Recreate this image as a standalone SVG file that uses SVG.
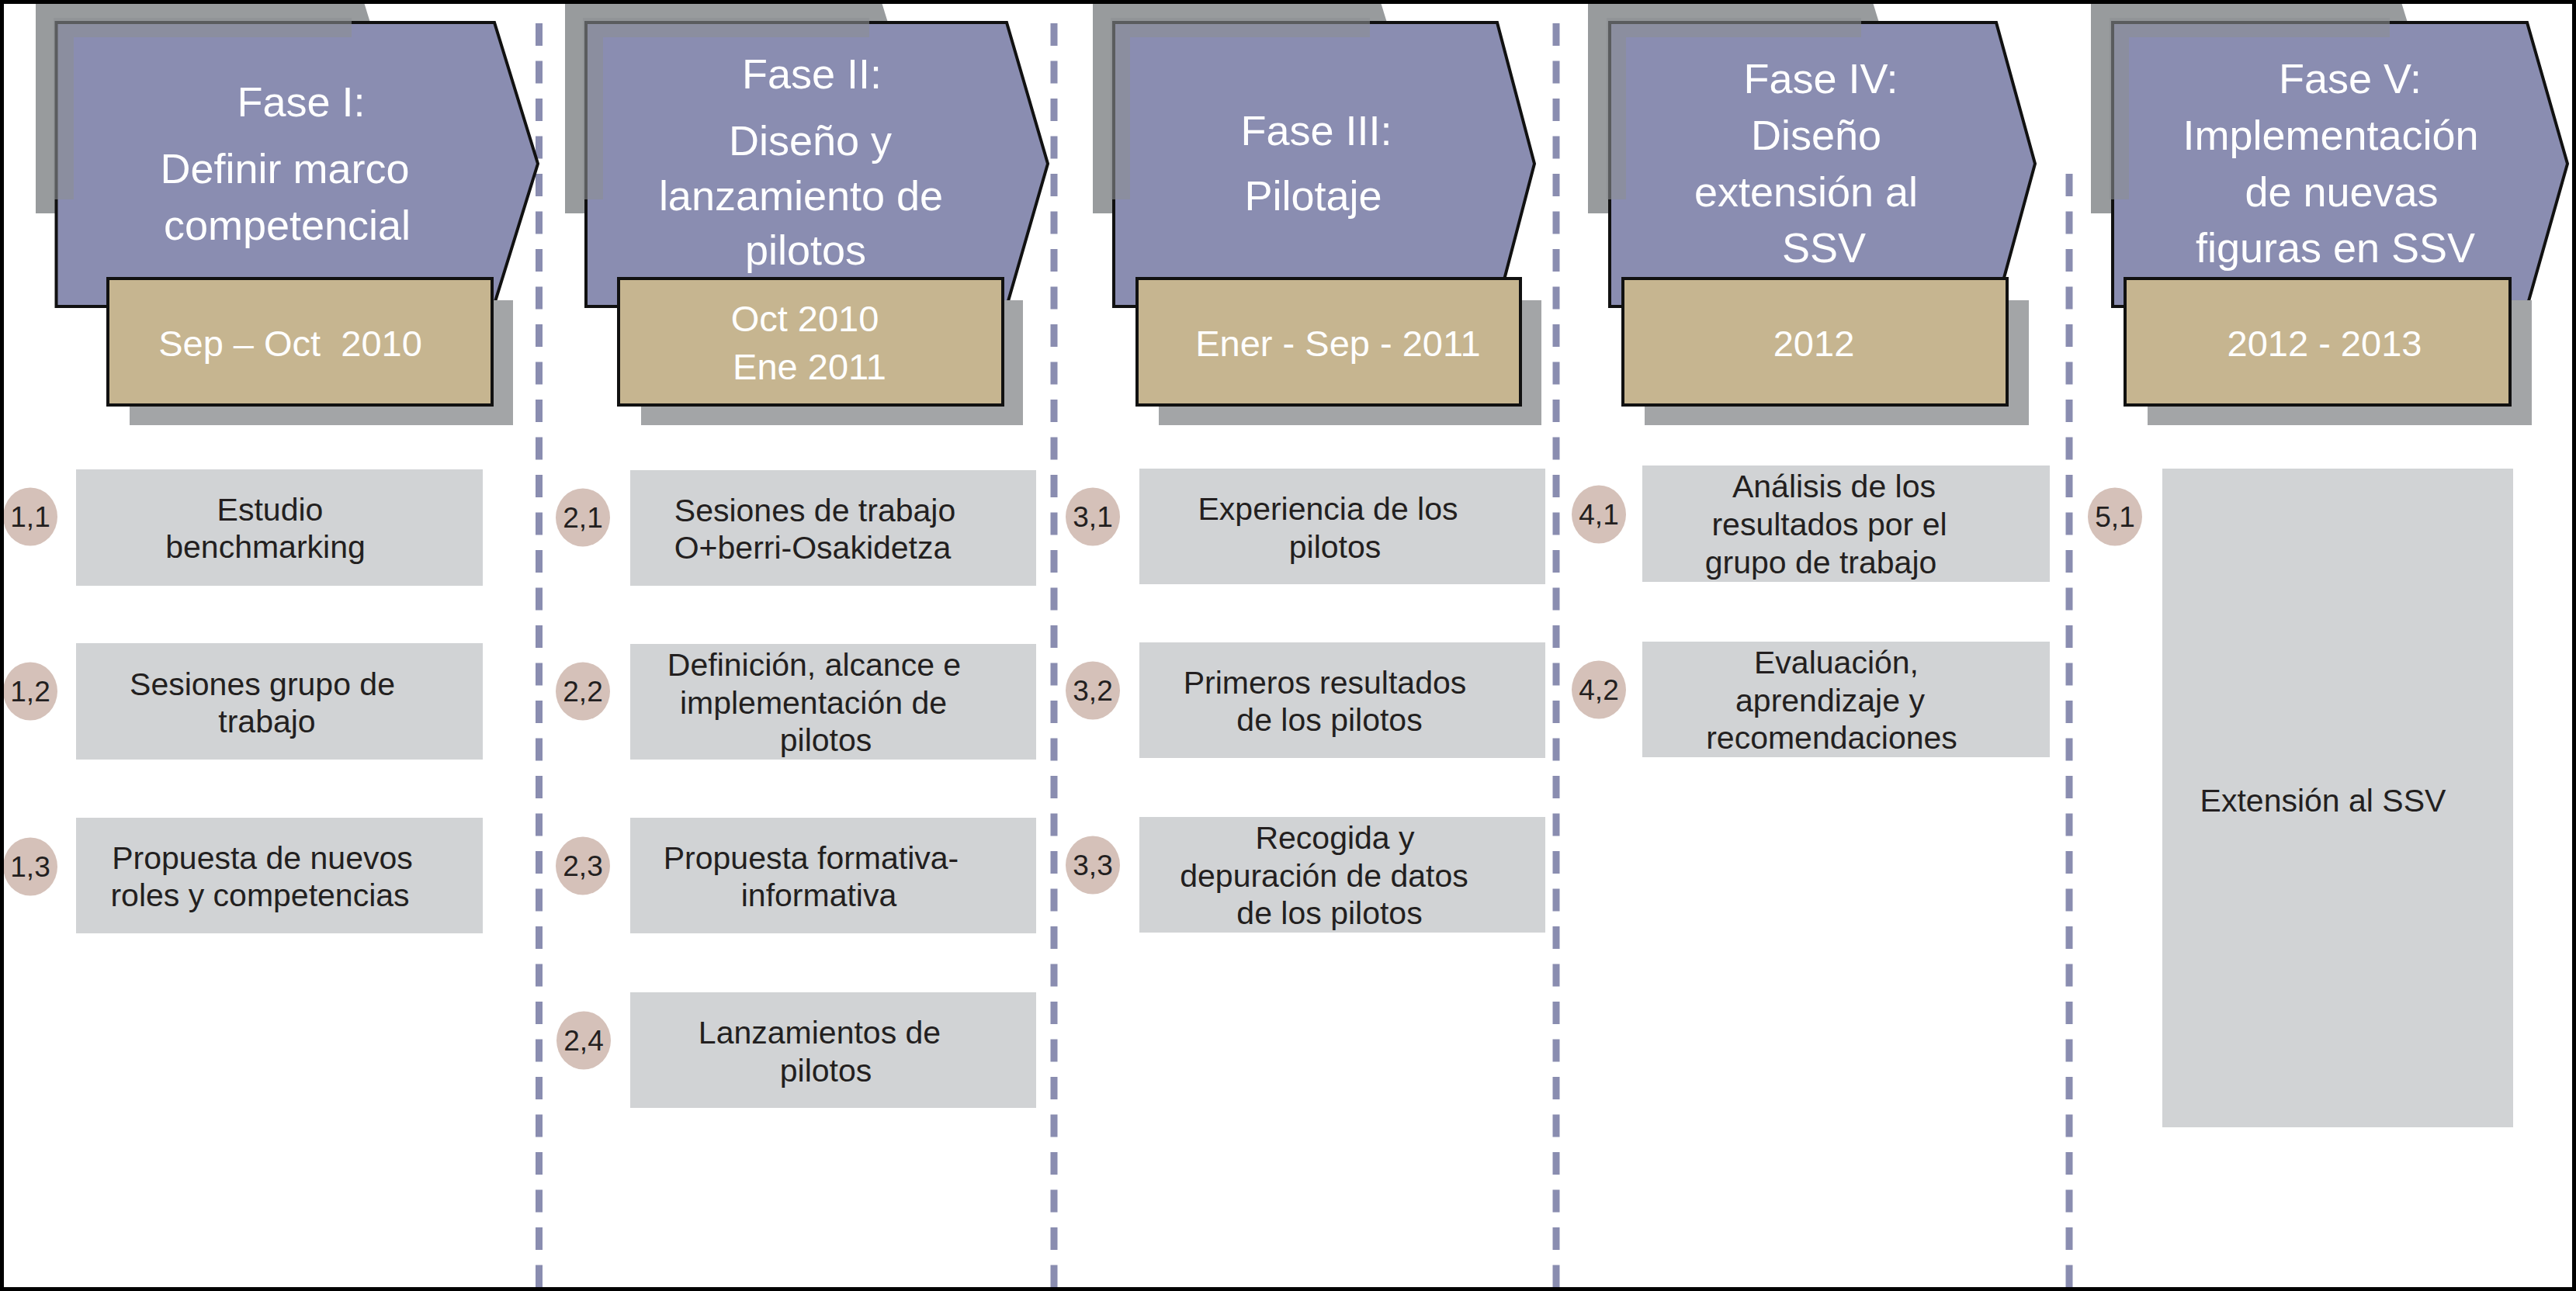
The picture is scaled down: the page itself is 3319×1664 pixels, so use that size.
<svg xmlns="http://www.w3.org/2000/svg" width="3319" height="1664" viewBox="0 0 3319 1664">
<style>
.shadow{fill:#989b9d}
.band{fill:#8c8f92;opacity:0.6}
.pent{fill:#8a8db1;stroke:#111;stroke-width:4;stroke-linejoin:miter}
.dshadow{fill:#a3a5a7}
.date{fill:#c6b590;stroke:#111;stroke-width:4}
.ht{font-family:"Liberation Sans",Arial,sans-serif;font-size:54px;fill:#fff;text-anchor:middle}
.dt{font-family:"Liberation Sans",Arial,sans-serif;font-size:47px;fill:#fff;text-anchor:middle;white-space:pre}
.box{fill:#d1d3d5}
.it{font-family:"Liberation Sans",Arial,sans-serif;font-size:41px;fill:#231f20;text-anchor:middle}
.badge{fill:#d5c1b9}
.bt{font-family:"Liberation Sans",Arial,sans-serif;font-size:37px;fill:#231f20;text-anchor:middle}
.div{stroke:#8a8db0;stroke-width:9;stroke-dasharray:29 19.5;fill:none}
</style>
<rect x="0" y="0" width="3319" height="1664" fill="#fff"/>

<g id="connectors">
<line class="div" x1="694.5" y1="30" x2="694.5" y2="1664"/>
<line class="div" x1="1358" y1="30" x2="1358" y2="1664"/>
<line class="div" x1="2005" y1="30" x2="2005" y2="1664"/>
<line class="div" x1="2666" y1="224" x2="2666" y2="1664"/>
</g>

<g id="phase1">
<polygon class="shadow" points="46,0 468,0 477,29 477,275 46,275"/>
<polygon class="pent" points="72.5,29 637,29 693,211 636,395 72.5,395"/>
<path class="band" d="M69 23H453V48H95V257H69Z"/>
<rect class="dshadow" x="167" y="387" width="494" height="161"/>
<rect class="date" x="139" y="359" width="495" height="163"/>
<text class="ht" x="388" y="150">Fase I:</text>
<text class="ht" x="367" y="236">Definir marco</text>
<text class="ht" x="370" y="309">competencial</text>
<text class="dt" x="374" y="459">Sep – Oct  2010</text>
</g>

<g id="phase2">
<polygon class="shadow" points="728,0 1135,0 1144,29 1144,275 728,275"/>
<polygon class="pent" points="755,29 1297,29 1350,211 1297,395 755,395"/>
<path class="band" d="M751 23H1120V48H777V257H751Z"/>
<rect class="dshadow" x="826" y="387" width="492" height="161"/>
<rect class="date" x="797" y="359" width="495" height="163"/>
<text class="ht" x="1046" y="114">Fase II:</text>
<text class="ht" x="1044" y="200">Diseño y</text>
<text class="ht" x="1032" y="271">lanzamiento de</text>
<text class="ht" x="1038" y="341">pilotos</text>
<text class="dt" x="1037" y="427">Oct 2010</text>
<text class="dt" x="1043" y="489">Ene 2011</text>
</g>

<g id="phase3">
<polygon class="shadow" points="1408,0 1778,0 1787,29 1787,275 1408,275"/>
<polygon class="pent" points="1435,29 1929,29 1977,211 1929,395 1435,395"/>
<path class="band" d="M1431 23H1765V48H1456V257H1431Z"/>
<rect class="dshadow" x="1493" y="387" width="493" height="161"/>
<rect class="date" x="1465" y="359" width="494" height="163"/>
<text class="ht" x="1696" y="187">Fase III:</text>
<text class="ht" x="1692" y="271">Pilotaje</text>
<text class="dt" x="1724" y="459">Ener - Sep - 2011</text>
</g>

<g id="phase4">
<polygon class="shadow" points="2046,0 2412,0 2421,29 2421,275 2046,275"/>
<polygon class="pent" points="2074,29 2572,29 2622,211 2572,395 2074,395"/>
<path class="band" d="M2070 23H2398V48H2095V257H2070Z"/>
<rect class="dshadow" x="2119" y="387" width="495" height="161"/>
<rect class="date" x="2091" y="359" width="495" height="163"/>
<text class="ht" x="2346" y="120">Fase IV:</text>
<text class="ht" x="2340" y="193">Diseño</text>
<text class="ht" x="2327" y="266">extensión al</text>
<text class="ht" x="2350" y="338">SSV</text>
<text class="dt" x="2337" y="459">2012</text>
</g>

<g id="phase5">
<polygon class="shadow" points="2694,0 3093,0 3102,29 3102,275 2694,275"/>
<polygon class="pent" points="2722,29 3256,29 3308,211 3256,395 2722,395"/>
<path class="band" d="M2718 23H3079V48H2743V257H2718Z"/>
<rect class="dshadow" x="2767" y="387" width="495" height="161"/>
<rect class="date" x="2738" y="359" width="496" height="163"/>
<text class="ht" x="3028" y="120">Fase V:</text>
<text class="ht" x="3003" y="193">Implementación</text>
<text class="ht" x="3017" y="266">de nuevas</text>
<text class="ht" x="3009" y="338">figuras en SSV</text>
<text class="dt" x="2995" y="459">2012 - 2013</text>
</g>

<g id="item11">
<rect class="box" x="98" y="605" width="524" height="150"/>
<ellipse class="badge" cx="39" cy="666" rx="35" ry="37.5"/>
<text class="bt" x="39" y="679">1,1</text>
<text class="it" x="348" y="671">Estudio</text>
<text class="it" x="342" y="719">benchmarking</text>
</g>
<g id="item12">
<rect class="box" x="98" y="829" width="524" height="150"/>
<ellipse class="badge" cx="39" cy="891" rx="35" ry="37.5"/>
<text class="bt" x="39" y="904">1,2</text>
<text class="it" x="338" y="896">Sesiones grupo de</text>
<text class="it" x="344" y="944">trabajo</text>
</g>
<g id="item13">
<rect class="box" x="98" y="1054" width="524" height="149"/>
<ellipse class="badge" cx="39" cy="1117" rx="35" ry="37.5"/>
<text class="bt" x="39" y="1130">1,3</text>
<text class="it" x="338" y="1120">Propuesta de nuevos</text>
<text class="it" x="335" y="1168">roles y competencias</text>
</g>

<g id="item21">
<rect class="box" x="812" y="606" width="523" height="149"/>
<ellipse class="badge" cx="751" cy="667" rx="35" ry="37.5"/>
<text class="bt" x="751" y="680">2,1</text>
<text class="it" x="1050" y="672">Sesiones de trabajo</text>
<text class="it" x="1047" y="720">O+berri-Osakidetza</text>
</g>
<g id="item22">
<rect class="box" x="812" y="830" width="523" height="149"/>
<ellipse class="badge" cx="751" cy="891" rx="35" ry="37.5"/>
<text class="bt" x="751" y="904">2,2</text>
<text class="it" x="1049" y="871">Definición, alcance e</text>
<text class="it" x="1048" y="920">implementación de</text>
<text class="it" x="1064" y="968">pilotos</text>
</g>
<g id="item23">
<rect class="box" x="812" y="1054" width="523" height="149"/>
<ellipse class="badge" cx="751" cy="1116" rx="35" ry="37.5"/>
<text class="bt" x="751" y="1129">2,3</text>
<text class="it" x="1045" y="1120">Propuesta formativa-</text>
<text class="it" x="1055" y="1168">informativa</text>
</g>
<g id="item24">
<rect class="box" x="812" y="1279" width="523" height="149"/>
<ellipse class="badge" cx="752" cy="1341" rx="35" ry="37.5"/>
<text class="bt" x="752" y="1354">2,4</text>
<text class="it" x="1056" y="1345">Lanzamientos de</text>
<text class="it" x="1064" y="1394">pilotos</text>
</g>

<g id="item31">
<rect class="box" x="1468" y="604" width="523" height="149"/>
<ellipse class="badge" cx="1408" cy="666" rx="35" ry="37.5"/>
<text class="bt" x="1408" y="679">3,1</text>
<text class="it" x="1711" y="670">Experiencia de los</text>
<text class="it" x="1720" y="719">pilotos</text>
</g>
<g id="item32">
<rect class="box" x="1468" y="828" width="523" height="149"/>
<ellipse class="badge" cx="1408" cy="890" rx="35" ry="37.5"/>
<text class="bt" x="1408" y="903">3,2</text>
<text class="it" x="1707" y="894">Primeros resultados</text>
<text class="it" x="1713" y="942">de los pilotos</text>
</g>
<g id="item33">
<rect class="box" x="1468" y="1053" width="523" height="149"/>
<ellipse class="badge" cx="1408" cy="1115" rx="35" ry="37.5"/>
<text class="bt" x="1408" y="1128">3,3</text>
<text class="it" x="1720" y="1094">Recogida y</text>
<text class="it" x="1706" y="1143">depuración de datos</text>
<text class="it" x="1713" y="1191">de los pilotos</text>
</g>

<g id="item41">
<rect class="box" x="2116" y="600" width="525" height="150"/>
<ellipse class="badge" cx="2060" cy="663" rx="35" ry="37.5"/>
<text class="bt" x="2060" y="676">4,1</text>
<text class="it" x="2363" y="641">Análisis de los</text>
<text class="it" x="2357" y="690">resultados por el</text>
<text class="it" x="2346" y="739">grupo de trabajo</text>
</g>
<g id="item42">
<rect class="box" x="2116" y="827" width="525" height="149"/>
<ellipse class="badge" cx="2060" cy="889" rx="35" ry="37.5"/>
<text class="bt" x="2060" y="902">4,2</text>
<text class="it" x="2366" y="868">Evaluación,</text>
<text class="it" x="2358" y="917">aprendizaje y</text>
<text class="it" x="2360" y="965">recomendaciones</text>
</g>

<g id="item51">
<rect class="box" x="2786" y="604" width="452" height="849"/>
<ellipse class="badge" cx="2725" cy="666" rx="35" ry="37.5"/>
<text class="bt" x="2725" y="679">5,1</text>
<text class="it" x="2993" y="1046">Extensión al SSV</text>
</g>

<rect x="0" y="0" width="3319" height="1664" fill="none" stroke="#000" stroke-width="10"/>
</svg>
